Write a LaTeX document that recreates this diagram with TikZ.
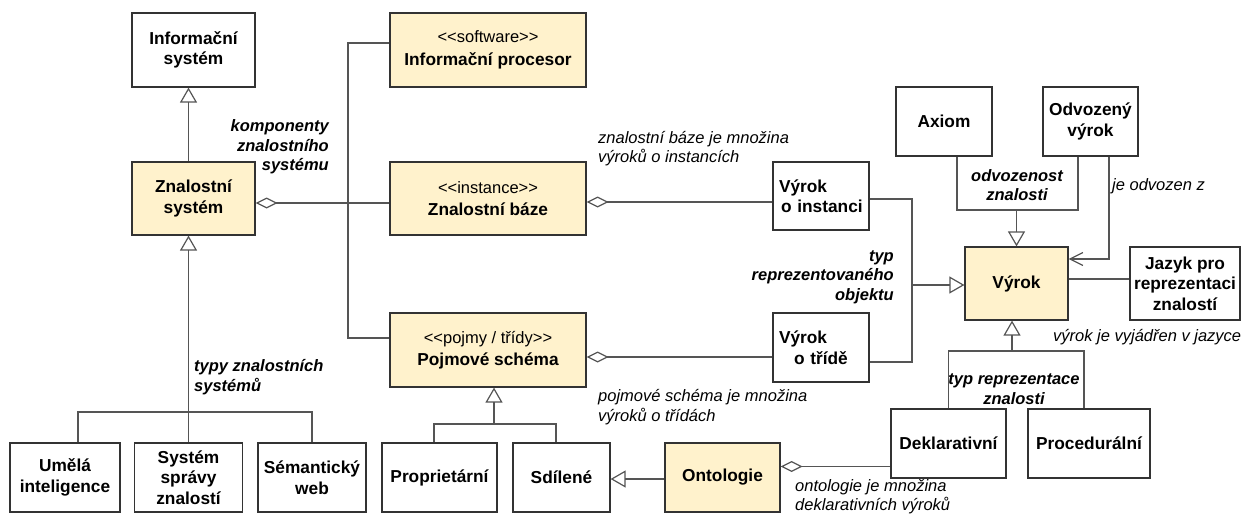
\documentclass[tikz,border=0pt]{standalone}
\usepackage{fontspec}
\setmainfont{Liberation Sans}[Ligatures=TeXOff]
\usetikzlibrary{arrows.meta}
\definecolor{yelc}{HTML}{FFF2CC}
\definecolor{boxc}{HTML}{333333}
\definecolor{linec}{HTML}{555555}
% stereotype line inside a class box
\newcommand\sttext[1]{{\mdseries\fontsize{16.5}{20}\selectfont #1}}

\begin{document}
\begin{tikzpicture}[x=1pt,y=-1pt,
  box/.style={draw=boxc, line width=1.2pt, fill=white,
    font=\bfseries\fontsize{17.3}{20.5}\selectfont, align=center, inner sep=0pt},
  yel/.style={box, fill=yelc},
  wire/.style={draw=linec, line width=1.2pt},
  gen/.style={wire, -{Triangle[open,length=15pt,width=17pt]}},
  agg/.style={wire, {Diamond[open,length=22pt,width=11pt]}-},
  nav/.style={wire, -{Straight Barb[length=13pt,width=13pt]}},
  note/.style={font=\itshape\fontsize{16.5}{19.5}\selectfont, inner sep=0pt},
  bnote/.style={font=\bfseries\itshape\fontsize{16.5}{19.5}\selectfont, inner sep=0pt}]
\useasboundingbox (0,0) rectangle (1241,515);

% classes
\node[box, minimum width=123pt, minimum height=74pt] (infsys) at (193.5,50) {Informační\\systém};
\node[yel, minimum width=123pt, minimum height=73pt] (znsys) at (193.5,198.5) {Znalostní\\systém};
\node[yel, minimum width=196pt, minimum height=74pt] (infproc) at (488,50) {\sttext{<<software>>}\\[2pt]Informační procesor};
\node[yel, minimum width=196pt, minimum height=73pt] (znbaze) at (488,198.5) {\sttext{<<instance>>}\\[2pt]Znalostní báze};
\node[yel, minimum width=196pt, minimum height=74pt] (pojsch) at (488,350) {\sttext{<<pojmy / třídy>>}\\[2pt]Pojmové schéma};
\node[box, minimum width=96pt, minimum height=68pt, text width=84pt, align=left] (vinst) at (821,196) {Výrok\\\hspace*{2pt}o instanci};
\node[box, minimum width=96pt, minimum height=69pt, text width=84pt, align=left] (vtrida) at (821,347.5) {Výrok\\\hspace*{15pt}o třídě};
\node[box, minimum width=96pt, minimum height=69pt] (axiom) at (944,121.5) {Axiom};
\node[box, minimum width=95pt, minimum height=69pt] (odvoz) at (1090.5,121.5) {Odvozený\\výrok};
\node[yel, minimum width=103pt, minimum height=73pt] (vyrok) at (1016.5,283.5) {Výrok};
\node[box, minimum width=110pt, minimum height=73pt] (jazyk) at (1185,283.5) {Jazyk pro\\reprezentaci\\znalostí};
\node[box, minimum width=115pt, minimum height=69pt] (deklar) at (948.5,443.5) {Deklarativní};
\node[box, minimum width=122pt, minimum height=69pt] (proced) at (1089,443.5) {Procedurální};
\node[box, minimum width=110pt, minimum height=69pt] (umela) at (65,477.5) {Umělá\\inteligence};
\node[box, minimum width=108pt, minimum height=69pt] (spravy) at (188.5,477.5) {Systém\\správy\\znalostí};
\node[box, minimum width=108pt, minimum height=69pt] (seman) at (312,477.5) {Sémantický\\web};
\node[box, minimum width=115pt, minimum height=69pt] (propr) at (439.5,477.5) {Proprietární};
\node[box, minimum width=97pt, minimum height=69pt] (sdil) at (561.5,477.5) {Sdílené};
\node[yel, minimum width=115pt, minimum height=69pt] (ontol) at (722.5,477.5) {Ontologie};

% bend and junction points
\coordinate (busA) at (348,43);
\coordinate (busB) at (348,338);
\coordinate (busK) at (348,203);
\coordinate (kbY) at (680,202);
\coordinate (psY) at (680,357);
\coordinate (ja) at (912,199);
\coordinate (jb) at (912,362);
\coordinate (jc) at (912,285);
\coordinate (ax) at (1016.5,210);
\coordinate (dz) at (1109,259);
\coordinate (vj) at (1100,279);
\coordinate (tr) at (1012,351);
\coordinate (od) at (830,466.5);
\coordinate (os) at (640,479);
\coordinate (ps) at (494,424);
\coordinate (tz) at (188,412);

% relations
\draw[gen] ([xshift=-5pt]znsys.north) -- ([xshift=-5pt]infsys.south);
\draw[gen] (spravy.north) -- (spravy.north |- znsys.south);
\draw[wire] ([xshift=13pt]umela.north) |- (tz) -| (seman.north);
\draw[agg] (znsys.east |- busK) -- (znbaze.west |- busK);
\draw[wire] (infproc.west |- busA) -- (busA) -- (busB) -- (pojsch.west |- busB);
\draw[agg] (znbaze.east |- kbY) -- (vinst.west |- kbY);
\draw[agg] (pojsch.east |- psY) -- (vtrida.west |- psY);
\draw[wire] (vinst.east |- ja) -- (ja) -- (jb) -- (vtrida.east |- jb);
\draw[gen] (jc) -- (vyrok.west |- jc);
\draw[wire] ([xshift=13pt]axiom.south) |- (ax) -| ([xshift=-12.5pt]odvoz.south);
\draw[gen] (ax) -- (vyrok.north);
\draw[nav] ([xshift=18.5pt]odvoz.south) |- (vyrok.east |- dz);
\draw[wire] (vyrok.east |- vj) -- (jazyk.west |- vj);
\draw[wire] (deklar.north) |- (tr) -| ([xshift=-5pt]proced.north);
\draw[gen] (tr) -- (vyrok.south -| tr);
\draw[agg] (ontol.east |- od) -- (deklar.west |- od);
\draw[gen] (ontol.west |- os) -- (sdil.east |- os);
\draw[wire] ([xshift=-5.5pt]propr.north) |- (ps) -| ([xshift=-5.5pt]sdil.north);
\draw[gen] (ps) -- (pojsch.south -| ps);

% relation labels
\node[bnote, anchor=east, align=right] (lkomp) at (329,147) {komponenty\\znalostního\\systému};
\node[note, anchor=west, align=left] (lkb) at (598,148.5) {znalostní báze je množina\\výroků o instancích};
\node[note, anchor=west, align=left] (lps) at (598,407) {pojmové schéma je množina\\výroků o třídách};
\node[note, anchor=west, align=left] (lont) at (795,496.5) {ontologie je množina\\deklarativních výroků};
\node[bnote, anchor=east, align=right] (ltyp) at (894,277) {typ\\reprezentovaného\\objektu};
\node[bnote, align=center] (lodv) at (1017,185) {odvozenost\\znalosti};
\node[note, anchor=west] (lodz) at (1112,186) {je odvozen z};
\node[note, anchor=west] (ljaz) at (1053,337) {výrok je vyjádřen v jazyce};
\node[bnote, align=center] (ltrz) at (1014,389) {typ reprezentace\\znalosti};
\node[bnote, anchor=west, align=left] (ltypy) at (194,377) {typy znalostních\\systémů};
\end{tikzpicture}
\end{document}
